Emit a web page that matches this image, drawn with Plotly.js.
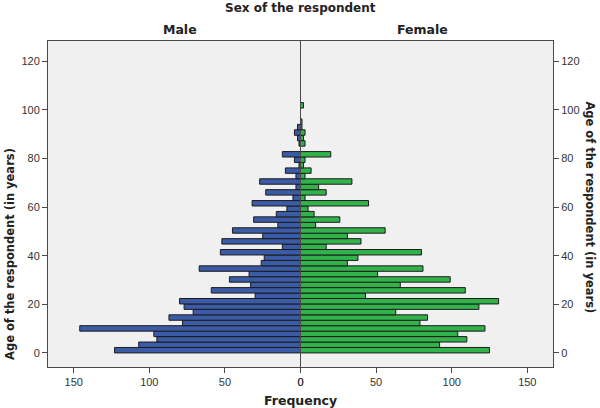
<!DOCTYPE html>
<html>
<head>
<meta charset="utf-8">
<script src="https://cdn.plot.ly/plotly-3.0.1.min.js"></script>
<style>html,body{margin:0;padding:0;background:#fff;}#chart{width:600px;height:408px;}</style>
</head>
<body>
<div id="chart"></div>
<script>
// Age histogram bins (lower edge of first bin, bin width in years)
const binStart = 0;
const binWidth = 2.24;
// Frequencies per age bin, from youngest to oldest
const maleCounts = [123,107,95,97,146,78,87,71,77,80,30,59,33,47,34,67,26,24,53,12,52,25,45,15,31,16,9,32,5,23,3,27,3,10,1,4,12,0,1,2,4,2,0,0,0,0];
const femaleCounts = [125,92,110,104,122,79,84,63,118,131,43,109,66,99,51,81,31,38,80,17,40,31,56,10,26,9,5,45,3,17,12,34,3,7,2,3,20,0,3,2,3,1,1,0,0,2];
const yTicks = [0,20,40,60,80,100,120];
const xTicks = [0,50,100,150];
const groups = ['Male','Female'];

const ageCenters = maleCounts.map((_, k) => binStart + (k + 0.5) * binWidth);

const FONT = 'Liberation Sans, Arial, sans-serif';
const TFONT = 'DejaVu Sans, Verdana, sans-serif';
const lineCol = '#4a4a4a';

const male = {
  type: 'bar', orientation: 'h', x: maleCounts, y: ageCenters, width: binWidth,
  xaxis: 'x', yaxis: 'y', name: groups[0],
  marker: {color: '#3b5ba6', line: {color: '#1c1c1c', width: 1}}, hoverinfo: 'x+y'
};
const female = {
  type: 'bar', orientation: 'h', x: femaleCounts, y: ageCenters, width: binWidth,
  xaxis: 'x2', yaxis: 'y2', name: groups[1],
  marker: {color: '#31b24b', line: {color: '#1c1c1c', width: 1}}, hoverinfo: 'x+y'
};

const yRange = [-5.8, 128.4];
const xMax = 167;
const axisCommon = {
  showgrid: false, zeroline: false, showline: true, linecolor: lineCol, linewidth: 1,
  ticks: 'outside', ticklen: 5, tickcolor: lineCol, tickfont: {family: FONT, size: 11, color: '#333'}
};

const layout = {
  width: 600, height: 408,
  margin: {l: 48, r: 47, t: 41, b: 41},
  paper_bgcolor: '#ffffff', plot_bgcolor: '#f0f0f0',
  showlegend: false, bargap: 0,
  xaxis: Object.assign({}, axisCommon, {domain: [0, 0.5], range: [xMax, 0], tickvals: xTicks, mirror: true, anchor: 'y'}),
  xaxis2: Object.assign({}, axisCommon, {domain: [0.5, 1], range: [0, xMax], tickvals: xTicks, mirror: true, anchor: 'y2'}),
  yaxis: Object.assign({}, axisCommon, {range: yRange, tickvals: yTicks, anchor: 'x', side: 'left'}),
  yaxis2: Object.assign({}, axisCommon, {range: yRange, tickvals: yTicks, anchor: 'x2', side: 'right', matches: 'y'}),
  shapes: [{type: 'line', xref: 'paper', yref: 'paper', x0: 0.5, x1: 0.5, y0: 0, y1: 1, line: {color: lineCol, width: 1}}],
  annotations: [
    {text: '<b>Sex of the respondent</b>', xref: 'paper', yref: 'paper', x: 0.5, y: 1.101, showarrow: false, font: {family: TFONT, size: 12, color: '#222'}, xanchor: 'center', yanchor: 'middle'},
    {text: '<b>' + groups[0] + '</b>', xref: 'paper', yref: 'paper', x: 0.261, y: 1.034, showarrow: false, font: {family: TFONT, size: 12.5, color: '#222'}, xanchor: 'center', yanchor: 'middle'},
    {text: '<b>' + groups[1] + '</b>', xref: 'paper', yref: 'paper', x: 0.741, y: 1.034, showarrow: false, font: {family: TFONT, size: 12.5, color: '#222'}, xanchor: 'center', yanchor: 'middle'},
    {text: '<b>Frequency</b>', xref: 'paper', yref: 'paper', x: 0.5, y: -0.104, showarrow: false, font: {family: TFONT, size: 12.5, color: '#222'}, xanchor: 'center', yanchor: 'middle'},
    {text: '<b>Age of the respondent (in years)</b>', xref: 'paper', yref: 'paper', x: -0.075, y: 0.347, textangle: -90, showarrow: false, font: {family: TFONT, size: 11.5, color: '#222'}, xanchor: 'center', yanchor: 'middle'},
    {text: '<b>Age of the respondent (in years)</b>', xref: 'paper', yref: 'paper', x: 1.073, y: 0.49, textangle: 90, showarrow: false, font: {family: TFONT, size: 11.5, color: '#222'}, xanchor: 'center', yanchor: 'middle'}
  ]
};

Plotly.newPlot('chart', [male, female], layout, {displayModeBar: false, staticPlot: true});
</script>
</body>
</html>
